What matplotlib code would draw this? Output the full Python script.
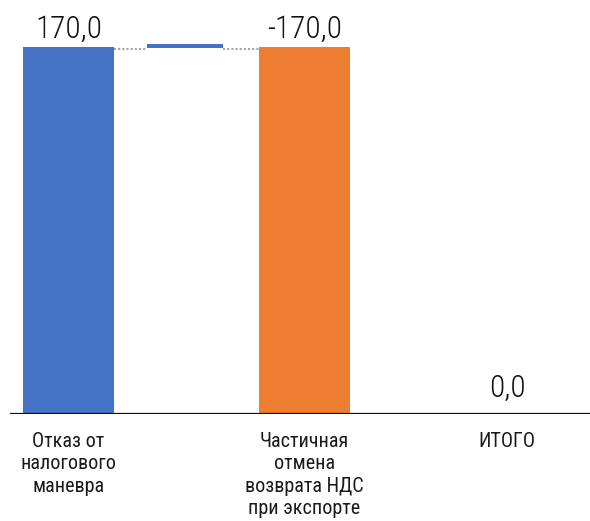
import matplotlib
matplotlib.use("Agg")
import matplotlib.pyplot as plt

plt.rcParams['font.family'] = ['Roboto Condensed', 'DejaVu Sans']

# ---- data ----
categories = ["Отказ от\nналогового\nманевра", "", "Частичная\nотмена\nвозврата НДС\nпри экспорте", "ИТОГО"]
values = [170.0, 2.0, -170.0, 0.0]
value_labels = ["170,0", "", "-170,0", "0,0"]
colors = ["#4472C4", "#4472C4", "#ED7D31", "#4472C4"]

# ---- layout (pixel-like x coordinates) ----
xpos = [68.5, 185.0, 304.5, 507.0]
widths = [91, 76, 91, 91]
PX = 2.16  # pixels per unit

fig = plt.figure(figsize=(5.90, 5.21), dpi=100)
ax = fig.add_axes([10/590, (521-414)/521, 580/590, 414/521])
ax.set_xlim(10, 590)
ax.set_ylim(0, 414/PX)

# waterfall bottoms
bottoms = [0.0, 169.4, 0.0, 0.0]
heights = [values[0], values[1], abs(values[2]), values[3]]
ax.bar(xpos, heights, width=widths, bottom=bottoms, color=colors, zorder=2)

# connectors
for i in range(2):
    x0 = xpos[i] + widths[i] / 2
    x1 = xpos[i + 1] - widths[i + 1] / 2
    ax.plot([x0, x1], [169.0, 169.0], color="#A6A6A6", lw=1.5, ls=(0, (1, 1)), zorder=1)

# value labels
offsets = [9, 0, 9, 17]
for x, h, b, lab, off in zip(xpos, heights, bottoms, value_labels, offsets):
    if lab:
        ax.text(x, b + h + off / PX, lab, ha="center", va="baseline", fontsize=22.5,
                fontweight="light", color="#111111")

ax.axhline(0, color="#111111", lw=1.6, zorder=3)
for s in ax.spines.values():
    s.set_visible(False)
ax.set_yticks([])
ax.set_xticks(xpos)
ax.set_xticklabels(categories, fontsize=14.5, color="#1a1a1a", linespacing=1.22)
ax.tick_params(axis="x", length=0, pad=13)

fig.savefig("out.png", dpi=100)
